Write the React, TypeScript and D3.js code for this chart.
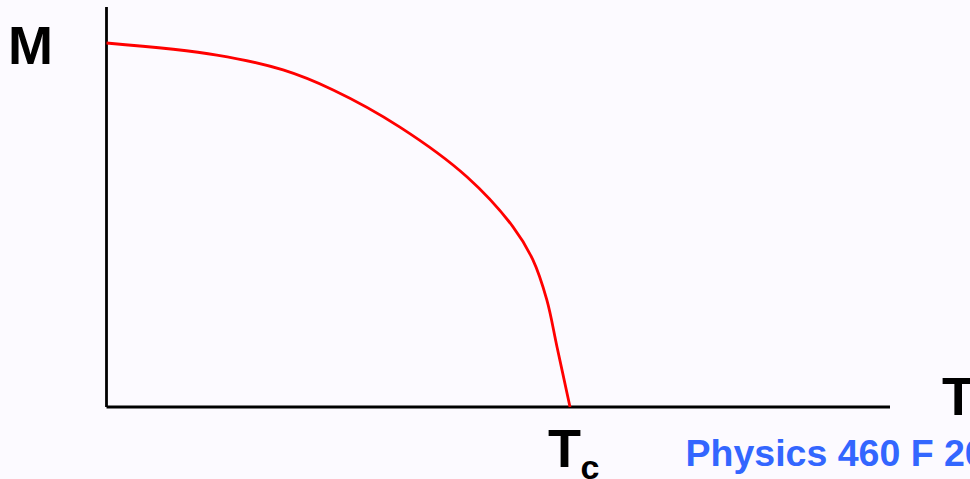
import React from "react";
import * as d3 from "d3";

// Magnetization M vs temperature T (T in units of Tc, M in units of M(0))
const temps = [0, 0.238, 0.381, 0.489, 0.633, 0.778, 0.877, 0.92, 0.95, 0.972, 1.0];
const mags = [1.0, 0.967, 0.926, 0.871, 0.769, 0.632, 0.495, 0.404, 0.294, 0.165, 0];
const xLabel = "T";
const yLabel = "M";
const tcLabel = "T";
const tcSub = "c";
const footer = "Physics 460 F 2006";

const W = 970;
const H = 479;

export default function App() {
  const x = d3.scaleLinear().domain([0, 1]).range([106.5, 570]);
  const y = d3.scaleLinear().domain([0, 1]).range([407, 43]);
  const xMax = x.invert(890);
  const yMax = y.invert(7);
  const data = temps.map((t, i) => ({ t, m: mags[i] }));
  const line = d3
    .line<{ t: number; m: number }>()
    .x((d) => x(d.t))
    .y((d) => y(d.m))
    .curve(d3.curveCatmullRom.alpha(0.5));
  const font = "'Liberation Sans', Arial, sans-serif";
  return (
    <svg
      width={W}
      height={H}
      style={{ position: "absolute", left: 0, top: 0, background: "#fcfaff" }}
    >
      <rect x={0} y={0} width={W} height={H} fill="#fcfaff" />
      <line x1={x(0)} x2={x(0)} y1={y(yMax)} y2={y(0)} stroke="#000" strokeWidth={2.8} />
      <line x1={x(0)} x2={x(xMax)} y1={y(0)} y2={y(0)} stroke="#000" strokeWidth={2.8} />
      <path d={line(data) || ""} fill="none" stroke="#ff0000" strokeWidth={2.8} />
      <text x={8} y={64} fontFamily={font} fontWeight="bold" fontSize={54} fill="#000">
        {yLabel}
      </text>
      <text x={942} y={415} fontFamily={font} fontWeight="bold" fontSize={53} fill="#000">
        {xLabel}
      </text>
      <text x={548} y={467} fontFamily={font} fontWeight="bold" fontSize={54} fill="#000">
        {tcLabel}
      </text>
      <text x={580.5} y={479} fontFamily={font} fontWeight="bold" fontSize={34} fill="#000">
        {tcSub}
      </text>
      <text x={685.5} y={466} fontFamily={font} fontWeight="bold" fontSize={37.5} fill="#3366ff">
        {footer}
      </text>
    </svg>
  );
}
